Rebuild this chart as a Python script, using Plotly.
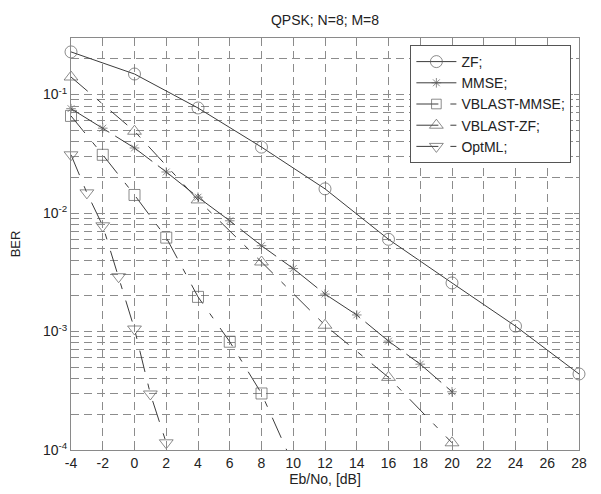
import math
import plotly.graph_objects as go

# ---------------- data ----------------
snr_zf = [-4, 0, 4, 8, 12, 16, 20, 24, 28]
ber_zf = [0.229, 0.149, 0.077, 0.036, 0.016, 0.0060, 0.00257, 0.00111, 0.000438]

snr_mmse = [-4, -2, 0, 2, 4, 6, 8, 10, 12, 14, 16, 18, 20]
ber_mmse = [0.076, 0.052, 0.0354, 0.0222, 0.0136, 0.0086, 0.0053, 0.0034,
            0.00207, 0.00138, 0.00083, 0.00053, 0.00031]

snr_vbmmse = [-4, -2, 0, 2, 4, 6, 8, 10]
ber_vbmmse = [0.066, 0.031, 0.0142, 0.0062, 0.00196, 0.00082, 0.00030, 0.000075]

snr_vbzf = [-4, 0, 4, 8, 12, 16, 20]
ber_vbzf = [0.1406, 0.049, 0.0129, 0.00386, 0.00113, 0.00041, 0.000115]

snr_ml = [-4, -3, -2, -1, 0, 1, 2]
ber_ml = [0.031, 0.0148, 0.0078, 0.0029, 0.00105, 0.000297, 0.000115]

names = ["ZF;", "MMSE;", "VBLAST-MMSE;", "VBLAST-ZF;", "OptML;"]
title_text = "QPSK; N=8; M=8"
x_label = "Eb/No, [dB]"
y_label = "BER"
x_ticks = list(range(-4, 29, 2))
y_range = (1e-4, 0.3)
decades = [1e-4, 1e-3, 1e-2, 1e-1]
decade_labels = ["10<sup>-4</sup>", "10<sup>-3</sup>", "10<sup>-2</sup>", "10<sup>-1</sup>"]

# ---------------- styling ----------------
FONT = "Liberation Sans, Arial, sans-serif"
LINE_C = "#3c3c3c"
MARK_C = "#5a5a5a"
GRID_C = "#8c8c8c"
AXIS_C = "#8a8a8a"
GRID_DASH = "8px,5px"

series = [
    (snr_zf, ber_zf, names[0], "solid", "circle-open", 12),
    (snr_mmse, ber_mmse, names[1], "45px,7px", "asterisk-open", 8),
    (snr_vbmmse, ber_vbmmse, names[2], "22px,12px,6px,12px", "square-open", 11),
    (snr_vbzf, ber_vbzf, names[3], "22px,12px,6px,12px", "triangle-up-open", 12),
    (snr_ml, ber_ml, names[4], "22px,12px,6px,12px", "triangle-down-open", 12),
]

fig = go.Figure()
for xs, ys, nm, dash, sym, sz in series:
    sizes = [sz if y >= y_range[0] else 0 for y in ys]
    fig.add_trace(go.Scatter(
        x=xs, y=ys, name=nm, mode="lines+markers",
        line=dict(color=LINE_C, width=1, dash=dash),
        marker=dict(symbol=sym, size=sizes, color=MARK_C,
                    line=dict(color=MARK_C, width=1)),
        cliponaxis=False,
    ))

# minor y values: 2..9 x decade
y_minor = [d * k for d in decades for k in range(2, 10) if d * k < y_range[1] * 0.999]

# page has an 8px body margin, so the figure is 8px smaller than the window
W, H = 593, 486
fig.update_layout(
    width=W, height=H,
    margin=dict(l=63, r=22, t=30, b=44),
    paper_bgcolor="white", plot_bgcolor="white",
    font=dict(family=FONT, size=14, color="#222222"),
    title=dict(text=title_text, x=0.5, xref="paper", y=1 - 12 / H,
               yanchor="middle", font=dict(size=14, family=FONT, color="#222222")),
    showlegend=True,
    legend=dict(x=0.985, y=0.983, xanchor="right", yanchor="top",
                bgcolor="white", bordercolor="#555555", borderwidth=1,
                font=dict(size=14, family=FONT, color="#222222"),
                tracegroupgap=0, itemwidth=40),
)
fig.update_xaxes(
    automargin=False,
    range=[x_ticks[0], x_ticks[-1]],
    tickvals=x_ticks, ticktext=[str(t) for t in x_ticks],
    showgrid=True, gridcolor=GRID_C, gridwidth=1, griddash=GRID_DASH,
    showline=True, linecolor=AXIS_C, linewidth=1, mirror="allticks",
    ticks="inside", ticklen=5, tickcolor=AXIS_C,
    zeroline=False, tickfont=dict(size=14),
    title=dict(text=x_label, standoff=3, font=dict(size=14)),
)
fig.update_yaxes(
    automargin=False,
    type="log", range=[math.log10(y_range[0]), math.log10(y_range[1])],
    tickvals=decades, ticktext=decade_labels,
    showgrid=True, gridcolor=GRID_C, gridwidth=1, griddash=GRID_DASH,
    minor=dict(tickvals=y_minor, showgrid=True, gridcolor=GRID_C, gridwidth=1,
               griddash=GRID_DASH, ticks="inside", ticklen=3, tickcolor=AXIS_C),
    showline=True, linecolor=AXIS_C, linewidth=1, mirror="allticks",
    ticks="inside", ticklen=5, tickcolor=AXIS_C,
    zeroline=False, tickfont=dict(size=14),
    title=dict(text=y_label, standoff=28, font=dict(size=13)),
)

fig.write_html("out.html")
